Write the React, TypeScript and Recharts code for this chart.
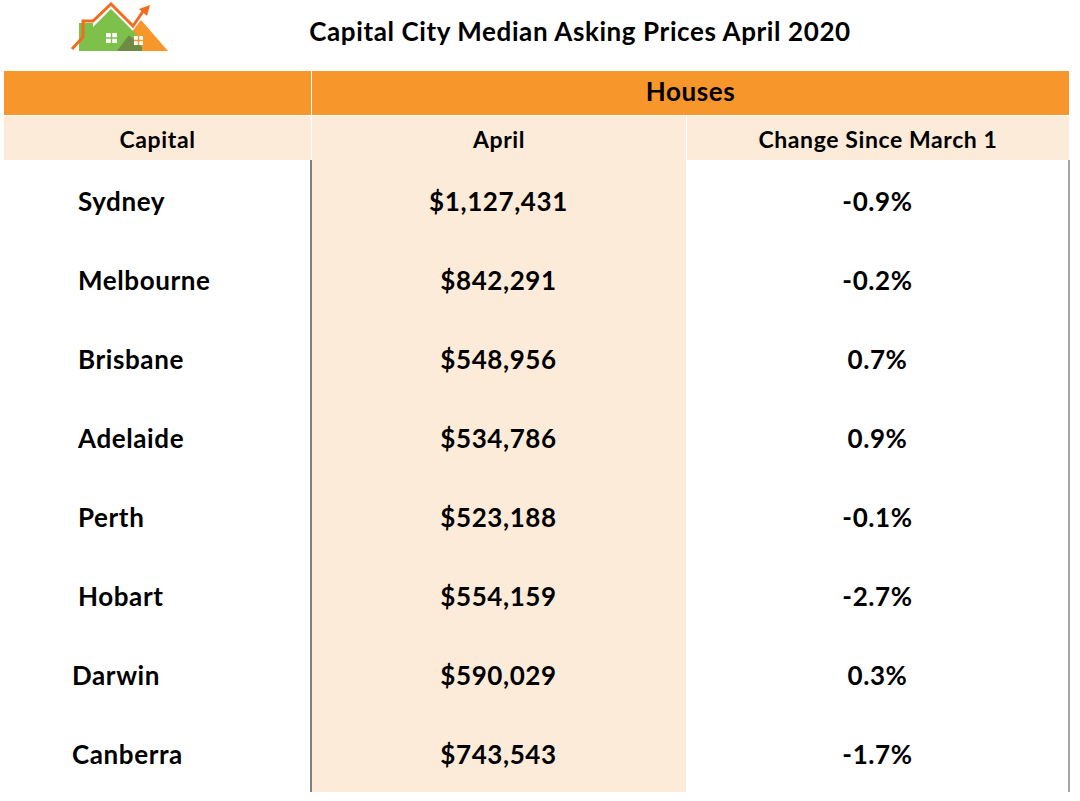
import React from 'react';
import { BarChart, Bar, XAxis, YAxis, LabelList, ReferenceLine } from 'recharts';

const title = 'Capital City Median Asking Prices April 2020';
const groupHeader = 'Houses';
const columnHeaders = ['Capital', 'April', 'Change Since March 1'];
const cities = ['Sydney', 'Melbourne', 'Brisbane', 'Adelaide', 'Perth', 'Hobart', 'Darwin', 'Canberra'];
const aprilPrices = [1127431, 842291, 548956, 534786, 523188, 554159, 590029, 743543];
const changeSinceMarch = [-0.9, -0.2, 0.7, 0.9, -0.1, -2.7, 0.3, -1.7];

const rows = cities.map((city, i) => ({
  city,
  price: aprilPrices[i],
  change: changeSinceMarch[i],
}));

const ORANGE = '#F7962B';
const PEACH = '#FDEBDA';
const FONT = 'Lato, "Open Sans", sans-serif';

// the last two city names sit a little further left in the original
const OUTDENTED = ['Darwin', 'Canberra'];

const fmtPrice = (v: any) => '$' + Number(v).toLocaleString('en-US');
const fmtChange = (v: any) => Number(v).toFixed(1) + '%';

const cellText = {
  fontFamily: FONT,
  fontWeight: 700,
  fontSize: 26,
  letterSpacing: 0.6,
  fill: '#000',
};

const CityTick = (props: any) => {
  const { y, payload } = props;
  const x = OUTDENTED.includes(payload.value) ? 72 : 78;
  return (
    <text x={x} y={y} dy={1} dominantBaseline="central" textAnchor="start" {...cellText}>
      {payload.value}
    </text>
  );
};

const cellLabel = (fmt: (v: any) => string) => (props: any) => {
  const { x, y, width, height, value } = props;
  return (
    <text x={x + width / 2} y={y + height / 2} dy={1} dominantBaseline="central" textAnchor="middle" {...cellText}>
      {fmt(value)}
    </text>
  );
};

const Logo = () => (
  <svg width={100} height={52} viewBox="68 2 100 52" style={{ position: 'absolute', left: 68, top: 2 }}>
    <polygon points="117,51 141,20 168,51" fill={ORANGE} />
    <polygon points="79,51 79,23 93,23 93,27 111,9 142,40 142,51" fill="#7DC04A" />
    <polygon points="117,51 129,35 142,47 142,51" fill="#6E8A45" />
    <polyline points="72,49 83,37 83,21 93,21 111,4 133,26 144,10" fill="none" stroke="#F26B21" strokeWidth={3} />
    <polygon points="139,9 150,5 147,16" fill="#F26B21" />
    <rect x={106} y={33} width={11} height={10} fill="#fff" />
    <line x1={111.5} y1={33} x2={111.5} y2={43} stroke="#7DC04A" strokeWidth={1.5} />
    <line x1={106} y1={38} x2={117} y2={38} stroke="#7DC04A" strokeWidth={1.5} />
    <rect x={134} y={36} width={9} height={9} fill="#fff" />
    <line x1={138.5} y1={36} x2={138.5} y2={45} stroke={ORANGE} strokeWidth={1.5} />
    <line x1={134} y1={40.5} x2={143} y2={40.5} stroke={ORANGE} strokeWidth={1.5} />
  </svg>
);

const headText: React.CSSProperties = {
  position: 'absolute',
  fontFamily: FONT,
  fontWeight: 700,
  fontSize: 23,
  letterSpacing: 0.6,
  color: '#000',
  textAlign: 'center',
  display: 'flex',
  alignItems: 'center',
  justifyContent: 'center',
};

export default function App() {
  return (
    <div style={{ position: 'absolute', left: 0, top: 0, width: 1080, height: 801, background: '#fff', overflow: 'hidden' }}>
      <Logo />
      <div style={{ ...headText, left: 280, top: 11, width: 600, height: 40, fontSize: 26 }}>{title}</div>

      {/* header rows */}
      <div style={{ position: 'absolute', left: 4, top: 71, width: 1065, height: 44, background: ORANGE }} />
      <div style={{ position: 'absolute', left: 311, top: 71, width: 1, height: 44, background: '#fff' }} />
      <div style={{ ...headText, left: 312, top: 69, width: 757, height: 44, fontSize: 26 }}>{groupHeader}</div>
      <div style={{ position: 'absolute', left: 4, top: 115, width: 1065, height: 45, background: PEACH }} />
      <div style={{ position: 'absolute', left: 4, top: 115, width: 1065, height: 1, background: '#fff' }} />
      <div style={{ position: 'absolute', left: 311, top: 115, width: 1, height: 45, background: '#fff' }} />
      <div style={{ position: 'absolute', left: 686, top: 115, width: 1, height: 45, background: '#fff' }} />
      <div style={{ ...headText, left: 4, top: 117, width: 307, height: 44 }}>{columnHeaders[0]}</div>
      <div style={{ ...headText, left: 312, top: 117, width: 374, height: 44 }}>{columnHeaders[1]}</div>
      <div style={{ ...headText, left: 687, top: 117, width: 382, height: 44 }}>{columnHeaders[2]}</div>

      <div style={{ position: 'absolute', left: 0, top: 160 }}>
        <BarChart
          width={1080}
          height={632}
          layout="vertical"
          data={rows}
          margin={{ top: 0, right: 11, bottom: 0, left: 0 }}
          barCategoryGap={0}
        >
          <XAxis type="number" hide domain={[0, 758]} />
          <YAxis
            type="category"
            dataKey="city"
            width={311}
            axisLine={{ stroke: '#808080', strokeWidth: 2 }}
            tickLine={false}
            tick={<CityTick />}
            interval={0}
          />
          <Bar dataKey={() => 375} stackId="cols" fill={PEACH} isAnimationActive={false}>
            <LabelList dataKey="price" content={cellLabel(fmtPrice)} />
          </Bar>
          <Bar dataKey={() => 383} stackId="cols" fill="transparent" isAnimationActive={false}>
            <LabelList dataKey="change" content={cellLabel(fmtChange)} />
          </Bar>
          <ReferenceLine x={758} stroke="#a6a6a6" strokeWidth={2} />
        </BarChart>
      </div>
    </div>
  );
}
